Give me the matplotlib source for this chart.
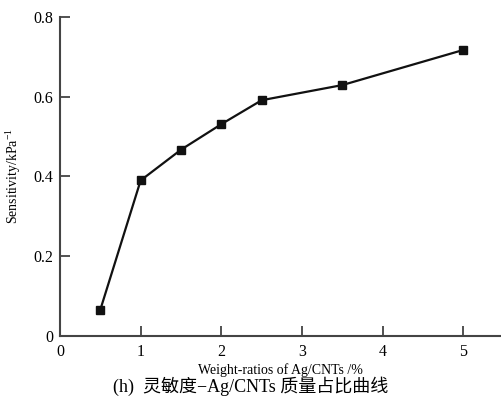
import matplotlib
matplotlib.use("Agg")
from matplotlib import pyplot as plt

ratios = [0.5, 1.0, 1.5, 2.0, 2.5, 3.5, 5.0]
sensitivity = [0.066, 0.390, 0.467, 0.531, 0.591, 0.629, 0.717]
xticks = [0, 1, 2, 3, 4, 5]
yticks = [0, 0.2, 0.4, 0.6, 0.8]
ytick_labels = ['0', '0.2', '0.4', '0.6', '0.8']

plt.rcParams['font.family'] = ['Liberation Serif', 'Noto Sans CJK SC']
plt.rcParams['mathtext.fontset'] = 'custom'
plt.rcParams['mathtext.rm'] = 'Liberation Serif'

fig = plt.figure(figsize=(5.02, 4.01), dpi=100)
ax = fig.add_axes([0.1195, 0.162, 0.879, 0.796])

ax.plot(ratios, sensitivity, 's-', color='#111111', lw=1.6, ms=5.5)

ax.set_xlim(0, 5.47)
ax.set_ylim(0, 0.8)
ax.set_xticks(xticks)
ax.set_yticks(yticks)
ax.set_yticklabels(ytick_labels)
ax.tick_params(direction='in', length=7, width=1.2, color='#333333',
               labelsize=11.5, pad=5)
ax.tick_params(axis='x', pad=6)
for side in ['top', 'right']:
    ax.spines[side].set_visible(False)
for side in ['left', 'bottom']:
    ax.spines[side].set_linewidth(1.5)
    ax.spines[side].set_color('#444444')

ax.set_xlabel('Weight-ratios of Ag/CNTs /%', fontsize=10, labelpad=2)
ax.set_ylabel(r'Sensitivity/kPa$^{\mathrm{-1}}$', fontsize=10, labelpad=7)
fig.text(0.5, 0.022, '(h)  灵敏度−Ag/CNTs 质量占比曲线', ha='center',
         fontsize=13)

fig.savefig('out.png', dpi=100)
